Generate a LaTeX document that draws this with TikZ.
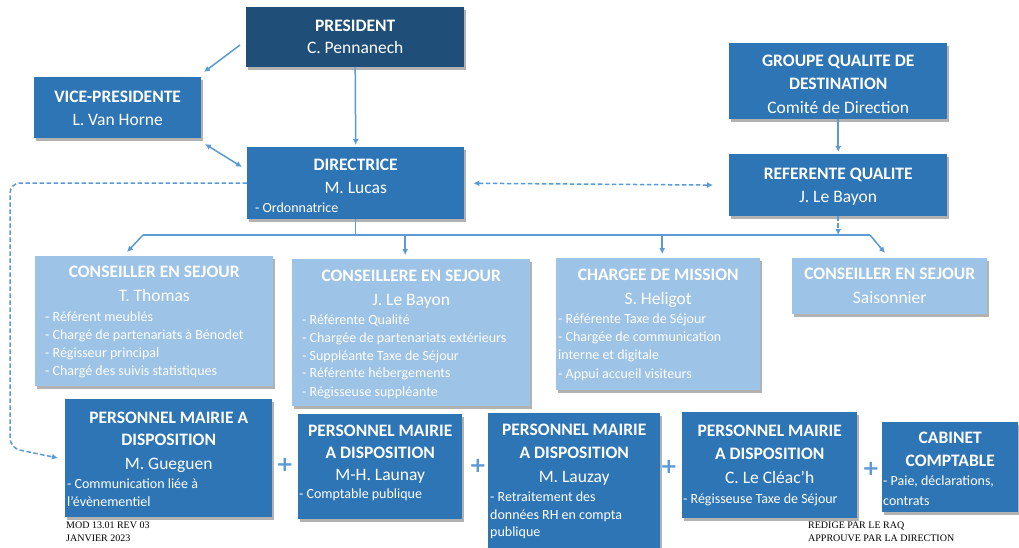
\documentclass[tikz,border=0pt]{standalone}
\usepackage{fontspec}
\setmainfont{Carlito}
\newfontfamily\footfont{Liberation Serif}
\newfontfamily\plusfont{DejaVu Sans}
\usetikzlibrary{arrows.meta,shadows}
\definecolor{dkblue}{HTML}{1F4E79}
\definecolor{mdblue}{HTML}{2E75B6}
\definecolor{ltblue}{HTML}{9DC3E6}
\definecolor{lnblue}{HTML}{5B9BD5}
\newcommand\tfont{\fontsize{17.5}{21}\selectfont\bfseries}
\newcommand\nfont{\fontsize{17.5}{21}\selectfont}
\newcommand\lfont{\fontsize{14}{17}\selectfont}
\newcommand\orgbx[3]{\vbox to #2pt{\hsize=#1pt\offinterlineskip #3\vss}}
\newcommand\blc[2]{\vskip#1pt\relax\hbox to\hsize{\hfil\smash{#2}\hfil}}
\newcommand\bll[3]{\vskip#1pt\relax\hbox to\hsize{\hskip#2pt\relax\smash{\lfont #3}\hfil}}
\newcommand\ttl[1]{{\tfont #1}}
\newcommand\nme[1]{{\nfont #1}}
\tikzset{
  box/.style={anchor=north west, inner sep=0pt, text=white,
    drop shadow={shadow xshift=2pt, shadow yshift=-2.5pt, fill=black, opacity=0.3}},
  ln/.style={draw=lnblue, line width=1.5pt},
  arr/.style={ln, -{Latex[length=6pt,width=6pt]}},
  both/.style={ln, {Latex[length=6pt,width=6pt]}-{Latex[length=6pt,width=6pt]}},
  dsh/.style={dash pattern=on 4.5pt off 2.5pt},
  plus/.style={text=lnblue, font=\plusfont\fontsize{21}{21}\selectfont\bfseries, inner sep=0pt},
  foot/.style={anchor=base west, inner sep=0pt, font=\footfont\fontsize{10}{12}\selectfont}
}
\begin{document}
\begin{tikzpicture}[x=1pt,y=-1pt]
\useasboundingbox[fill=white] (0,0) rectangle (1019,547);
% top level
\node[box, fill=dkblue] (pres) at (246,7) {\orgbx{218}{60}{\blc{24.7}{\ttl{PRESIDENT}}\blc{21.6}{\nme{C. Pennanech}}}};
\node[box, fill=mdblue] (vice) at (34,77) {\orgbx{167}{61}{\blc{25}{\ttl{VICE-PRESIDENTE}}\blc{23}{\nme{L. Van Horne}}}};
\node[box, fill=mdblue] (dir) at (247,147) {\orgbx{217}{72}{\blc{23}{\ttl{DIRECTRICE}}\blc{23}{\nme{M. Lucas}}\bll{19}{8}{- Ordonnatrice}}};
\node[box, fill=mdblue] (grp) at (729,43) {\orgbx{218}{76}{\blc{23}{\ttl{GROUPE QUALITE DE}}\blc{23.5}{\ttl{DESTINATION}}\blc{23.5}{\nme{Comité de Direction}}}};
\node[box, fill=mdblue] (ref) at (729,154) {\orgbx{218}{62}{\blc{25}{\ttl{REFERENTE QUALITE}}\blc{23}{\nme{J. Le Bayon}}}};
% second row
\node[box, fill=ltblue] (thomas) at (35,256) {\orgbx{238}{130}{\blc{21.7}{\ttl{CONSEILLER EN SEJOUR}}\blc{24}{\nme{T. Thomas}}\bll{19.3}{10}{- Référent meublés}\bll{18}{10}{- Chargé de partenariats à Bénodet}\bll{18}{10}{- Régisseur principal}\bll{18}{10}{- Chargé des suivis statistiques}}};
\node[box, fill=ltblue] (bayon) at (292,259) {\orgbx{238}{147}{\blc{22.7}{\ttl{CONSEILLERE EN SEJOUR}}\blc{23.3}{\nme{J. Le Bayon}}\bll{19.3}{10}{- Référente Qualité}\bll{17.7}{10}{- Chargée de partenariats extérieurs}\bll{18}{10}{- Suppléante Taxe de Séjour}\bll{17.7}{10}{- Référente hébergements}\bll{19}{10}{- Régisseuse suppléante}}};
\node[box, fill=ltblue] (chg) at (556,258) {\orgbx{204}{132}{\blc{22}{\ttl{CHARGEE DE MISSION}}\blc{24}{\nme{S. Heligot}}\bll{19.3}{2}{- Référente Taxe de Séjour}\bll{17.7}{2}{- Chargée de communication}\bll{18}{2}{interne et digitale}\bll{19}{2}{- Appui accueil visiteurs}}};
\node[box, fill=ltblue] (sais) at (792,258) {\orgbx{195}{56}{\blc{21}{\ttl{CONSEILLER EN SEJOUR}}\blc{24}{\nme{Saisonnier}}}};
% third row
\node[box, fill=mdblue] (gueg) at (65,399) {\orgbx{207}{118}{\blc{24.3}{\ttl{PERSONNEL MAIRIE A}}\blc{22.4}{\ttl{DISPOSITION}}\blc{23.6}{\nme{M. Gueguen}}\bll{19.4}{2}{- Communication liée à}\bll{18}{2}{l’évènementiel}}};
\node[box, fill=mdblue] (launay) at (298,414) {\orgbx{164}{105}{\blc{22.7}{\ttl{PERSONNEL MAIRIE}}\blc{21.6}{\ttl{A DISPOSITION}}\blc{22.4}{\nme{M-H. Launay}}\bll{17.6}{1}{- Comptable publique}}};
\node[box, fill=mdblue] (lauzay) at (488,413) {\orgbx{172}{140}{\blc{22}{\ttl{PERSONNEL MAIRIE}}\blc{23.3}{\ttl{A DISPOSITION}}\blc{24}{\nme{M. Lauzay}}\bll{18.7}{2}{- Retraitement des}\bll{18}{2}{données RH en compta}\bll{17.7}{2}{publique}}};
\node[box, fill=mdblue] (cleac) at (682,412) {\orgbx{175}{106}{\blc{24.7}{\ttl{PERSONNEL MAIRIE}}\blc{22.3}{\ttl{A DISPOSITION}}\blc{24.3}{\nme{C. Le Cléac’h}}\bll{20}{1}{- Régisseuse Taxe de Séjour}}};
\node[box, fill=mdblue] (cab) at (882,422) {\orgbx{136}{90}{\blc{21.3}{\ttl{CABINET}}\blc{23.4}{\ttl{COMPTABLE}}\bll{18.3}{1}{- Paie, déclarations,}\bll{20}{1}{contrats}}};
% plus signs
\node[plus] (p1) at (285,465) {+};
\node[plus] (p2) at (478,466) {+};
\node[plus] (p3) at (669,467) {+};
\node[plus] (p4) at (871,469) {+};
% footer
\node[foot] (f1) at (66,528) {MOD 13.01 REV 03};
\node[foot] (f2) at (66,541) {JANVIER 2023};
\node[foot] (f3) at (808,528) {REDIGE PAR LE RAQ};
\node[foot] (f4) at (808,541) {APPROUVE PAR LA DIRECTION};
% coordinates
\coordinate (pv1) at (240,45);
\coordinate (pv2) at (204,72);
\coordinate (vd1) at (205,144);
\coordinate (vd2) at (242,167);
\coordinate (bl) at (143,235);
\coordinate (br) at (870,235);
\coordinate (tt) at (127,252);
\coordinate (st) at (885,253);
\coordinate (gt) at (58,458);
\coordinate (bt) at ([xshift=-6pt]bayon.north);
\coordinate (ct) at ([xshift=4pt]chg.north);
% connectors
\draw[arr] (pv1) -- (pv2);
\draw[both] (vd1) -- (vd2);
\draw[arr, shorten >=2pt] (pres.south) -- (dir.north);
\draw[arr, shorten >=2pt] (grp.south) -- (ref.north);
\draw[both, dsh, shorten <=9pt, shorten >=16pt] (dir.east) -- (ref.west);
\draw[ln] (dir.south) -- (dir.south |- bl);
\draw[ln] (bl) -- (br);
\draw[arr] (bl) -- (tt);
\draw[arr, shorten >=4pt] (bl -| bt) -- (bt);
\draw[arr, shorten >=4pt] (bl -| ct) -- (ct);
\draw[arr] (br) -- (st);
\draw[arr, dsh] (ref.south) -- (ref.south |- br);
\draw[arr, dsh, rounded corners=10pt] (dir.west) -- (10,183) -- (10,448) -- (gt);
\end{tikzpicture}
\end{document}
